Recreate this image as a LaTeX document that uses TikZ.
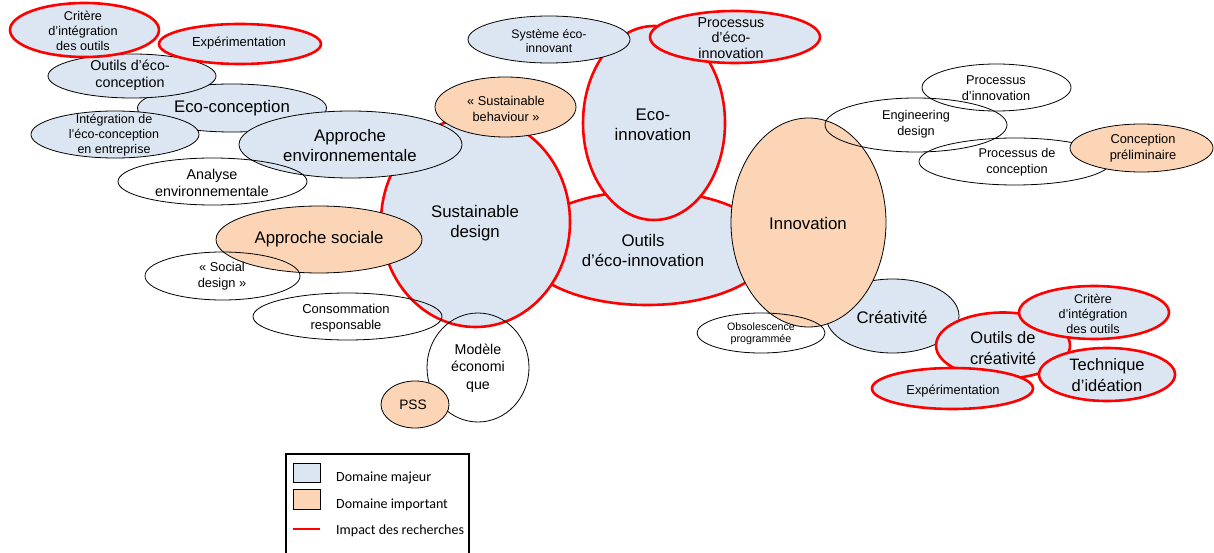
\documentclass[tikz,border=0pt]{standalone}
\usepackage{fontspec}
\setmainfont{Liberation Sans}
\newfontfamily\calibri{Carlito}
\definecolor{majblue}{HTML}{DCE6F2}
\definecolor{imporange}{HTML}{FBD5B5}
\definecolor{impred}{HTML}{FF0000}
\newcommand\fbig{\fontsize{16.8}{20}\selectfont}
\newcommand\fbigb{\fontsize{16.5}{20.8}\selectfont}
\newcommand\fmed{\fontsize{14.3}{16.8}\selectfont}
\newcommand\fsmall{\fontsize{12.7}{14.7}\selectfont}
\newcommand\fsmallb{\fontsize{12.8}{16}\selectfont}
\newcommand\ftiny{\fontsize{10.7}{12.3}\selectfont}
\tikzset{
  maj/.style={fill=majblue, draw=black, line width=0.8pt},
  imp/.style={fill=imporange, draw=black, line width=0.8pt},
  plain/.style={draw=black, line width=0.8pt},
  rmaj/.style={fill=majblue, draw=impred, line width=2.6pt},
  lbl/.style={align=center, inner sep=0pt, text=black},
  legtext/.style={anchor=base west, inner sep=0pt, font=\calibri\fontsize{14}{16}\selectfont}
}
\begin{document}
\begin{tikzpicture}[x=1pt,y=-1pt]
\useasboundingbox (0,0) rectangle (1214,553);
% --- central cluster
\path[rmaj] (647,248) ellipse [x radius=124pt, y radius=57pt];
\path[rmaj] (475.5,222) ellipse [x radius=94.5pt, y radius=105pt];
\path[rmaj] (654,123) ellipse [x radius=71pt, y radius=97pt];
\path[maj] (549,39.5) ellipse [x radius=81pt, y radius=23.5pt];
\path[rmaj] (735,37) ellipse [x radius=85pt, y radius=26pt];
\path[imp] (505.5,107) ellipse [x radius=70.5pt, y radius=30pt];
% --- left cluster
\path[maj] (232,108) ellipse [x radius=94.5pt, y radius=24pt];
\path[maj] (132,76) ellipse [x radius=84pt, y radius=22pt];
\path[rmaj] (84.5,30) ellipse [x radius=74.5pt, y radius=27pt];
\path[rmaj] (240,44) ellipse [x radius=81pt, y radius=20pt];
\path[maj] (115,134.5) ellipse [x radius=84pt, y radius=23.5pt];
\path[maj] (350.5,144.5) ellipse [x radius=111.5pt, y radius=33.5pt];
\path[imp] (319,239.5) ellipse [x radius=103pt, y radius=33.5pt];
% --- right cluster
\path[maj] (892.5,316) ellipse [x radius=66.5pt, y radius=37pt];
\path[imp] (808.5,222.5) ellipse [x radius=77.5pt, y radius=104.5pt];
\path[rmaj] (1003,345.5) ellipse [x radius=67pt, y radius=33pt];
\path[rmaj] (1094,312.5) ellipse [x radius=75pt, y radius=26.5pt];
\path[rmaj] (1107,374.5) ellipse [x radius=68pt, y radius=26.5pt];
\path[rmaj] (952.5,388.5) ellipse [x radius=80.5pt, y radius=20.5pt];
% --- outline-only ellipses
\path[plain] (212.5,181.5) ellipse [x radius=94.5pt, y radius=23.5pt];
\path[plain] (222.5,276) ellipse [x radius=77.5pt, y radius=24pt];
\path[plain] (347.5,316.5) ellipse [x radius=94.5pt, y radius=23.5pt];
\path[plain] (478,367.5) ellipse [x radius=51pt, y radius=54.5pt];
\path[imp] (415,404.5) ellipse [x radius=34pt, y radius=23.5pt];
\path[plain] (916,125) ellipse [x radius=91pt, y radius=27pt];
\path[plain] (996.5,87.5) ellipse [x radius=74.5pt, y radius=23.5pt];
\path[plain] (1015,161.5) ellipse [x radius=96pt, y radius=23.5pt];
\path[imp] (1141.5,148) ellipse [x radius=71.5pt, y radius=24pt];
\path[plain] (761,333) ellipse [x radius=64pt, y radius=20pt];
% --- labels
\node[lbl, font=\fbig] (oei) at (643,250) {Outils\\d’éco-innovation};
\node[lbl, font=\fbig] (sd) at (475,223) {Sustainable\\design};
\node[lbl, font=\fbig] (ei) at (653,125) {Eco-\\innovation};
\node[lbl, font=\fontsize{12.3}{14.5}\selectfont] (sei) at (549,41) {Système éco-\\innovant};
\node[lbl, font=\fontsize{14.3}{15.8}\selectfont] (pei) at (731,38) {Processus\\d’éco-\\innovation};
\node[lbl, font=\fsmallb] (sb) at (506,109) {«~Sustainable\\behaviour~»};
\node[lbl, font=\fbig] (ec) at (232,108) {Eco-conception};
\node[lbl, font=\fmed] (oec) at (130,75) {Outils d’éco-\\conception};
\node[lbl, font=\fsmall] (cil) at (83,31) {Critère\\d’intégration\\des outils};
\node[lbl, font=\fontsize{13}{15}\selectfont] (exl) at (239,43) {Expérimentation};
\node[lbl, font=\fontsize{12.5}{14.7}\selectfont] (iec) at (114,135) {Intégration de\\l’éco-conception\\en entreprise};
\node[lbl, font=\fbig] (ae) at (350,145) {Approche\\environnementale};
\node[lbl, font=\fontsize{14.3}{17}\selectfont] (an) at (212,182.5) {Analyse\\environnementale};
\node[lbl, font=\fbig] (as) at (319,239) {Approche sociale};
\node[lbl, font=\fsmallb] (sdz) at (222,276) {«~Social\\design~»};
\node[lbl, font=\fontsize{13}{15.7}\selectfont] (cr) at (346,318) {Consommation\\responsable};
\node[lbl, font=\fontsize{14.2}{17.3}\selectfont] (me) at (478,368) {Modèle\\économi\\que};
\node[lbl, font=\fontsize{13.7}{16}\selectfont] (pss) at (413,405) {PSS};
\node[lbl, font=\fbig] (inn) at (808,223) {Innovation};
\node[lbl, font=\fbig] (cre) at (892,317) {Créativité};
\node[lbl, font=\fontsize{12.7}{15.7}\selectfont] (eng) at (916,124.5) {Engineering\\design};
\node[lbl, font=\fontsize{12.8}{15.7}\selectfont] (pin) at (996,88) {Processus\\d’innovation};
\node[lbl, font=\fontsize{12.7}{16.3}\selectfont] (pdc) at (1017,162.5) {Processus de\\conception};
\node[lbl, font=\fontsize{12.85}{16}\selectfont] (cp) at (1143,148.5) {Conception\\préliminaire};
\node[lbl, font=\ftiny] (obs) at (761,334) {Obsolescence\\programmée};
\node[lbl, font=\fbigb] (odc) at (1003,348) {Outils de\\créativité};
\node[lbl, font=\fontsize{12.6}{14.7}\selectfont] (cir) at (1093,314) {Critère\\d’intégration\\des outils};
\node[lbl, font=\fbigb] (tid) at (1107,375) {Technique\\d’idéation};
\node[lbl, font=\fontsize{12.9}{15}\selectfont] (exr) at (953,391) {Expérimentation};
% --- legend
\draw[line width=2pt, black] (286,570) -- (286,454) -- (469,454) -- (469,570);
\path[fill=majblue, draw=black, line width=0.8pt] (293,463) rectangle (320,482);
\path[fill=imporange, draw=black, line width=0.8pt] (293,489) rectangle (320,509);
\coordinate (r1) at (293,529);
\coordinate (r2) at (320,529);
\draw[impred, line width=2.6pt] (r1) -- (r2);
\node[legtext] (l1) at (336,481.5) {Domaine majeur};
\node[legtext] (l2) at (336,508) {Domaine important};
\node[legtext] (l3) at (336,534.5) {Impact des recherches};
\end{tikzpicture}
\end{document}
